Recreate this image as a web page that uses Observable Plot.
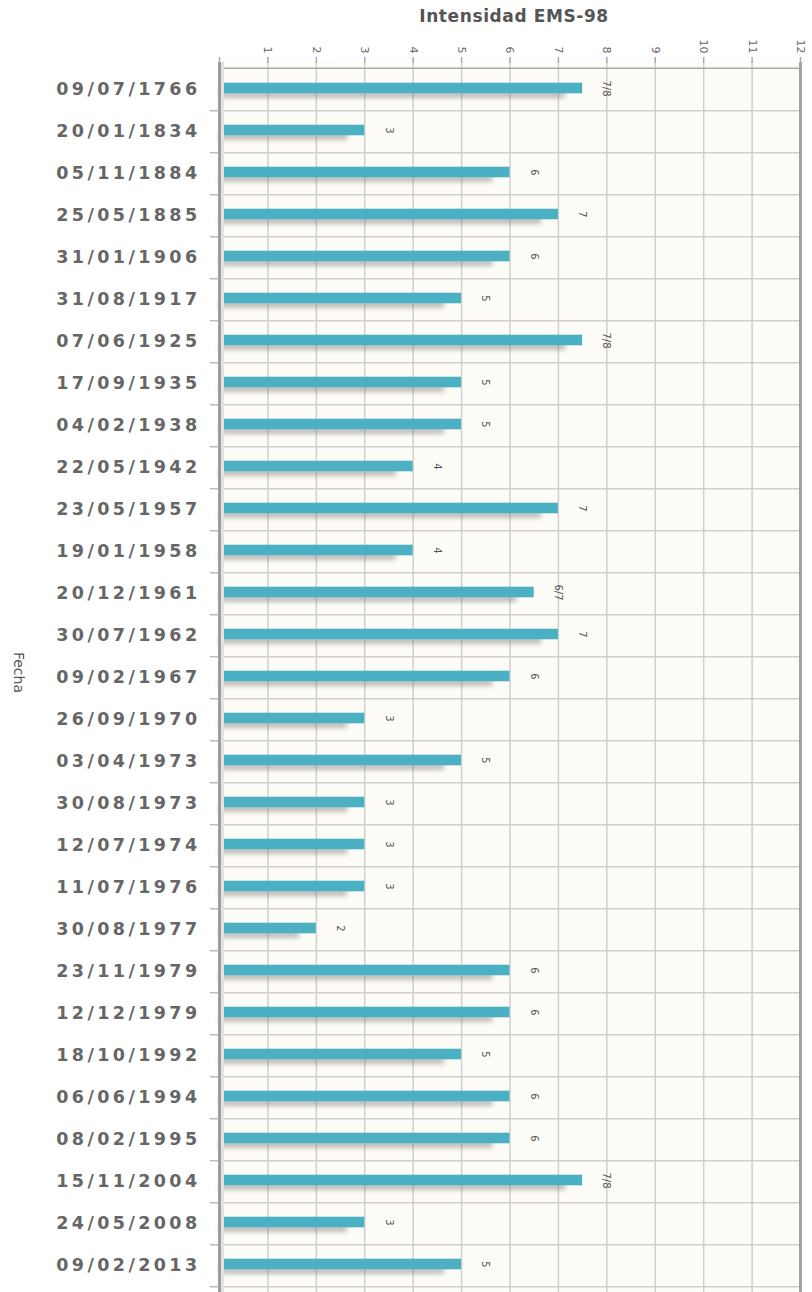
<!DOCTYPE html>
<html><head><meta charset="utf-8">
<script src="https://cdn.jsdelivr.net/npm/d3@7"></script>
<script src="https://cdn.jsdelivr.net/npm/@observablehq/plot@0.6"></script>
<style>
body{margin:0;background:#fff;font-family:"DejaVu Sans",sans-serif;}
#chart svg{overflow:visible;display:block;}
</style></head><body>
<div id="chart"></div>
<script>
const fechas = ["09/07/1766","20/01/1834","05/11/1884","25/05/1885","31/01/1906","31/08/1917","07/06/1925","17/09/1935","04/02/1938","22/05/1942","23/05/1957","19/01/1958","20/12/1961","30/07/1962","09/02/1967","26/09/1970","03/04/1973","30/08/1973","12/07/1974","11/07/1976","30/08/1977","23/11/1979","12/12/1979","18/10/1992","06/06/1994","08/02/1995","15/11/2004","24/05/2008","09/02/2013"];
const intensidades = [7.5,3,6,7,6,5,7.5,5,5,4,7,4,6.5,7,6,3,5,3,3,3,2,6,6,5,6,6,7.5,3,5];
const etiquetas = ["7/8","3","6","7","6","5","7/8","5","5","4","7","4","6/7","7","6","3","5","3","3","3","2","6","6","5","6","6","7/8","3","5"];
const ticksX = [0,1,2,3,4,5,6,7,8,9,10,11,12];
const titulo = "Intensidad EMS-98";
const tituloY = "Fecha";

const data = fechas.map((f,i)=>({fecha:f, valor:intensidades[i], etiqueta:etiquetas[i]}));
const W=812, H=1292, mt=62, mb=0, ml=219, mr=12;
const bw = (H-mt-mb)/fechas.length;
const grid = "#cfcfcb";

const chart = Plot.plot({
  width:W, height:H, marginTop:mt, marginBottom:mb, marginLeft:ml, marginRight:mr,
  style:{fontFamily:"DejaVu Sans", background:"transparent", overflow:"visible"},
  x:{domain:[0,12], axis:null, label:null},
  y:{domain:fechas, padding:0, axis:null, label:null},
  marks:[
    Plot.frame({fill:"#fefcf6", stroke:null}),
    Plot.ruleX(ticksX.filter(d=>d>0&&d<12), {stroke:grid, strokeWidth:1.5}),
    Plot.ruleY(fechas, {y:d=>d, dy:bw/2, stroke:grid, strokeWidth:1.5}),
    Plot.ruleY(fechas.slice(0,1), {y:d=>d, dy:-bw/2, stroke:"#aaa", strokeWidth:1.5}),
    Plot.ruleY(fechas, {y:d=>d, x1:0, x2:0, insetLeft:-9, dy:bw/2, stroke:"#bbb", strokeWidth:1.5}),
    Plot.axisX(ticksX, {anchor:"top", label:null, tickSize:6, tickPadding:3, tickRotate:90, fontSize:11, color:"#666", stroke:"#aaa", strokeWidth:1.5, tickFormat:d=>d===0?"":d}),
    Plot.rect(data, {x1:0, x2:d=>d.valor-0.35, y:"fecha", insetTop:bw/2+2, insetBottom:bw/2-9, fill:"#777", fillOpacity:0.5, imageFilter:"blur(2.5px)"}),
    Plot.rect(data, {x1:0, x2:"valor", y:"fecha", insetTop:(bw-11)/2-1, insetBottom:(bw-11)/2+1, fill:"#4bb0c4"}),
    Plot.ruleX([0], {stroke:"#e2e2e0", strokeWidth:3, dx:3}),
    Plot.ruleX([0], {stroke:"#9c9c9c", strokeWidth:3}),
    Plot.ruleX([12], {stroke:"#a2a2a2", strokeWidth:3}),
    Plot.text(data, {x:"valor", y:"fecha", text:"etiqueta", dx:24, dy:-1, rotate:90, fontSize:10, fill:"#555"}),
    Plot.text(fechas, {y:d=>d, frameAnchor:"left", dx:-19, textAnchor:"end", fontSize:17.5, fontWeight:"bold", fill:"#666"}),
    Plot.text([tituloY], {frameAnchor:"left", dx:-201, dy:-5, rotate:90, textAnchor:"middle", lineAnchor:"middle", fontSize:14, fill:"#555"}),
    Plot.text([titulo], {frameAnchor:"top", dy:-46, dx:4, lineAnchor:"middle", fontSize:17, fontWeight:"bold", fill:"#555"})
  ]
});
d3.select(chart).selectAll("text").filter(function(){return /^\d\d\/\d\d\/\d{4}$/.test(this.textContent);}).attr("letter-spacing","3.4");
d3.select(chart).selectAll("text").filter(function(){return this.textContent===titulo;}).attr("letter-spacing","0.6");
document.getElementById("chart").appendChild(chart);
</script>
</body></html>
